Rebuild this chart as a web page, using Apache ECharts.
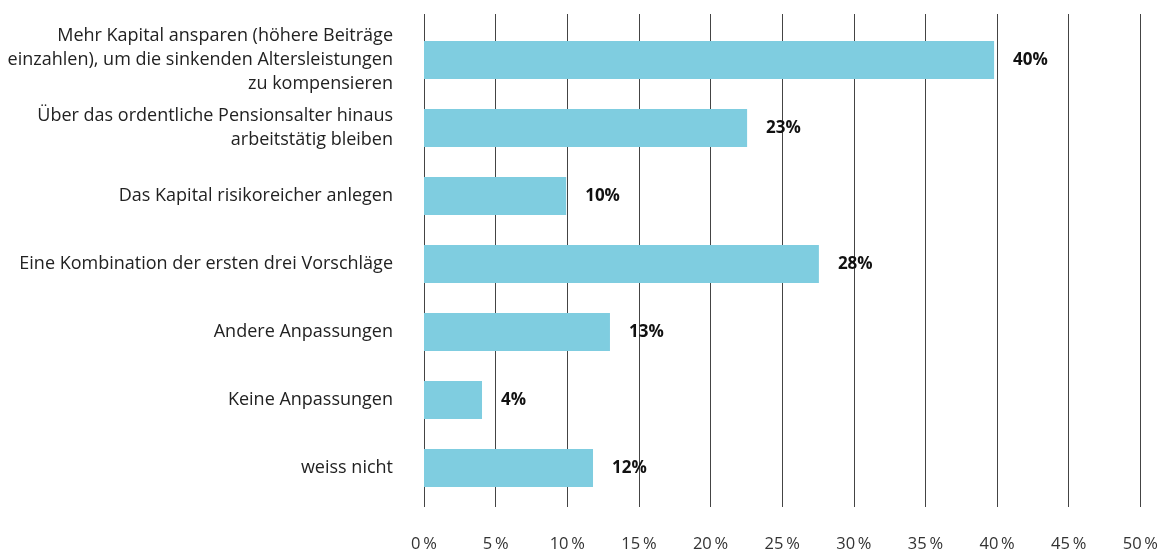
<!DOCTYPE html>
<html>
<head>
<meta charset="utf-8">
<script src="https://cdn.jsdelivr.net/npm/echarts@6/dist/echarts.min.js"></script>
<style>
  html, body { margin: 0; padding: 0; background: #fff; }
  #chart { width: 1161px; height: 553px; }
</style>
</head>
<body>
<div id="chart"></div>
<script>
// Antworten (von oben nach unten)
var categories = [
    'Mehr Kapital ansparen (höhere Beiträge\neinzahlen), um die sinkenden Altersleistungen\nzu kompensieren',
    'Über das ordentliche Pensionsalter hinaus\narbeitstätig bleiben',
    'Das Kapital risikoreicher anlegen',
    'Eine Kombination der ersten drei Vorschläge',
    'Andere Anpassungen',
    'Keine Anpassungen',
    'weiss nicht'
];
var values = [39.7, 22.5, 9.9, 27.5, 12.95, 4.04, 11.77];
var valueLabels = ['40%', '23%', '10%', '28%', '13%', '4%', '12%'];
var tickValues = [0, 5, 10, 15, 20, 25, 30, 35, 40, 45, 50];

var FONT = '"Open Sans", Lato, sans-serif';

var chart = echarts.init(document.getElementById('chart'));

var option = {
    backgroundColor: '#ffffff',
    animation: false,
    grid: [
        // Balken
        { left: 424, right: 19, top: 26, height: 476 },
        // Gitterlinien + Achsenbeschriftung (etwas länger als die Balkenfläche)
        { left: 424, right: 19, top: 14, height: 499 }
    ],
    xAxis: [{
        gridIndex: 0,
        type: 'value',
        min: tickValues[0],
        max: tickValues[tickValues.length - 1],
        interval: 5,
        show: false
    }, {
        gridIndex: 1,
        type: 'value',
        min: tickValues[0],
        max: tickValues[tickValues.length - 1],
        interval: 5,
        axisLine: { show: false },
        axisTick: { show: false },
        splitLine: { show: true, lineStyle: { color: '#444444', width: 1 } },
        axisLabel: {
            margin: 29,
            color: '#333333',
            fontSize: 16.5,
            fontFamily: FONT,
            formatter: function(v) { return v + '\u2009%'; }
        }
    }],
    yAxis: [{
        gridIndex: 0,
        type: 'category',
        inverse: true,
        data: categories,
        axisLine: { show: false },
        axisTick: { show: false },
        axisLabel: {
            margin: 31,
            color: '#222222',
            fontSize: 18,
            lineHeight: 24,
            fontFamily: FONT,
            align: 'right'
        }
    }, {
        gridIndex: 1,
        type: 'category',
        data: [],
        show: false
    }],
    series: [{
        type: 'bar',
        xAxisIndex: 0,
        yAxisIndex: 0,
        data: values,
        barWidth: 38,
        z: 5,
        itemStyle: { color: '#7fcde0' },
        label: {
            show: true,
            position: 'right',
            distance: 19,
            color: '#111111',
            fontSize: 17,
            fontWeight: 'bold',
            fontFamily: FONT,
            formatter: function(p) { return valueLabels[p.dataIndex]; }
        }
    }]
};

chart.setOption(option);
</script>
</body>
</html>
